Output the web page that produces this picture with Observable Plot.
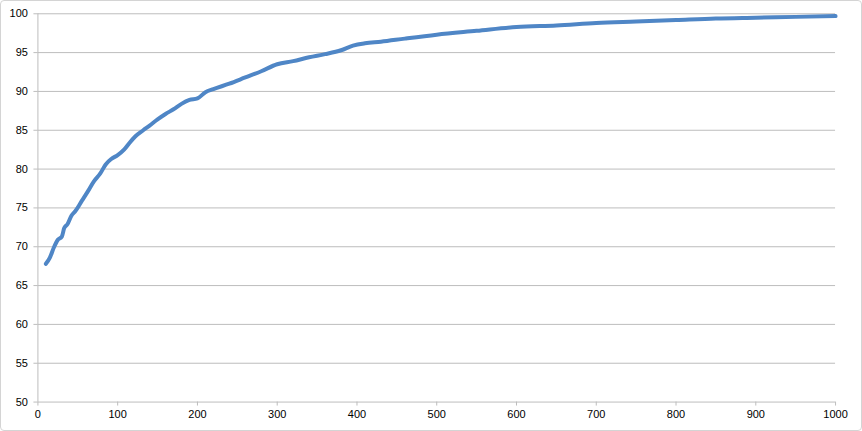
<!DOCTYPE html>
<html>
<head>
<meta charset="utf-8">
<script src="https://cdn.jsdelivr.net/npm/d3@7"></script>
<script src="https://cdn.jsdelivr.net/npm/@observablehq/plot@0.6"></script>
<style>
  html, body { margin: 0; padding: 0; background: #fff; }
  #frame { width: 862px; height: 431px; box-sizing: border-box; border: 1px solid #d4d4d4; border-radius: 4px; overflow: hidden; position: relative; }
  #frame svg { position: absolute; left: -1px; top: -1px; }
</style>
</head>
<body>
<div id="frame"></div>
<script>
const xs = [10, 15, 20, 25, 30, 33, 37, 42, 47, 55, 63, 70, 78, 85, 92, 100, 108, 115, 122, 132, 140, 150, 160, 170, 180, 190, 200, 210, 220, 240, 260, 280, 300, 320, 340, 360, 380, 395, 410, 430, 460, 500, 550, 600, 650, 700, 750, 800, 850, 900, 950, 1000];
const ys = [67.8, 68.6, 69.9, 70.9, 71.3, 72.4, 72.9, 74.0, 74.6, 75.9, 77.2, 78.4, 79.4, 80.6, 81.3, 81.8, 82.5, 83.4, 84.2, 85.0, 85.6, 86.4, 87.1, 87.7, 88.4, 88.9, 89.1, 89.9, 90.3, 91.0, 91.8, 92.6, 93.5, 93.9, 94.4, 94.8, 95.3, 95.9, 96.2, 96.4, 96.8, 97.3, 97.8, 98.3, 98.5, 98.8, 99.0, 99.2, 99.4, 99.5, 99.6, 99.7];
const xTicks = [0, 100, 200, 300, 400, 500, 600, 700, 800, 900, 1000];
const yTicks = [50, 55, 60, 65, 70, 75, 80, 85, 90, 95, 100];

const data = xs.map((x, i) => ({x, y: ys[i]}));

const chart = Plot.plot({
  width: 862,
  height: 431,
  marginLeft: 37.5,
  marginRight: 25,
  marginTop: 13.3,
  marginBottom: 28.5,
  style: { fontFamily: "'Liberation Sans', Arial, sans-serif", fontSize: "11px", color: "#000", background: "transparent" },
  x: { domain: [0, 1000], ticks: xTicks, tickFormat: d => String(d) },
  y: { domain: [50, 100], ticks: yTicks, tickFormat: d => String(d) },
  marks: [
    Plot.gridY(yTicks, { stroke: "#bdbdbd", strokeOpacity: 1, strokeWidth: 1 }),
    Plot.ruleX([0], { stroke: "#bdbdbd", strokeWidth: 1 }),
    Plot.axisY(yTicks, { tickSize: 4, tickPadding: 6, stroke: "#bdbdbd", fill: "#000", label: null, tickFormat: d => String(d) }),
    Plot.axisX(xTicks, { tickSize: 4, tickPadding: 4, stroke: "#bdbdbd", fill: "#000", label: null, tickFormat: d => String(d) }),
    Plot.line(data, { x: "x", y: "y", stroke: "#4f86c6", strokeWidth: 4, curve: "monotone-x", strokeLinejoin: "round", strokeLinecap: "round" })
  ]
});
document.getElementById("frame").appendChild(chart);
</script>
</body>
</html>
